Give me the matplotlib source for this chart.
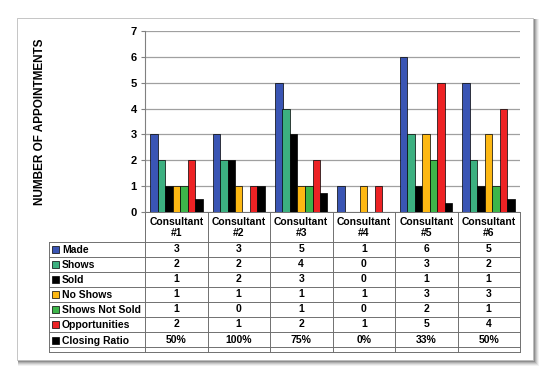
import matplotlib
matplotlib.use("Agg")
import matplotlib.pyplot as plt
from matplotlib.patches import Rectangle
import numpy as np

plt.rcParams['font.family'] = ['Liberation Sans', 'DejaVu Sans']

consultants = ["Consultant\n#1", "Consultant\n#2", "Consultant\n#3",
               "Consultant\n#4", "Consultant\n#5", "Consultant\n#6"]
series_names = ["Made", "Shows", "Sold", "No Shows", "Shows Not Sold",
                "Opportunities", "Closing Ratio"]
made = [3, 3, 5, 1, 6, 5]
shows = [2, 2, 4, 0, 3, 2]
sold = [1, 2, 3, 0, 1, 1]
no_shows = [1, 1, 1, 1, 3, 3]
shows_not_sold = [1, 0, 1, 0, 2, 1]
opportunities = [2, 1, 2, 1, 5, 4]
closing_ratio = [0.50, 1.00, 0.75, 0.00, 0.33, 0.50]
closing_labels = ["50%", "100%", "75%", "0%", "33%", "50%"]
colors = ["#3a55b4", "#3cb080", "#000000", "#fdb813", "#3db54a",
          "#ed2224", "#000000"]
yticks = [0, 1, 2, 3, 4, 5, 6, 7]

series = [made, shows, sold, no_shows, shows_not_sold, opportunities,
          closing_ratio]
table_text = [[str(v) for v in s] for s in series[:-1]] + [closing_labels]

W, H = 550, 377
fig = plt.figure(figsize=(W / 100, H / 100), dpi=100)
fig.patch.set_facecolor("white")

# overlay axes in pixel coordinates
ov = fig.add_axes([0, 0, 1, 1])
ov.set_xlim(0, W)
ov.set_ylim(H, 0)
ov.axis("off")

# card shadow
for i, a in enumerate([0.05, 0.07, 0.10, 0.13, 0.18]):
    off = 5 - i
    ov.add_patch(Rectangle((17 + 1, 18 + 1), 516 + off, 342 + off,
                           facecolor="black", alpha=a, edgecolor="none",
                           zorder=0))
ov.add_patch(Rectangle((17, 18), 516, 342, facecolor="white",
                       edgecolor="#bbbbbb", linewidth=0.6, zorder=1))

# plot axes
x0, x1 = 145, 520
y_top, y_bot = 31, 212
ax = fig.add_axes([x0 / W, 1 - y_bot / H, (x1 - x0) / W, (y_bot - y_top) / H])
ax.set_zorder(3)
ax.patch.set_alpha(0)
n = len(consultants)
x = np.arange(n)
bw = 0.12
for j, (s, c) in enumerate(zip(series, colors)):
    ax.bar(x + (j - 3) * bw, s, width=bw, color=c, edgecolor="black",
           linewidth=0.5, zorder=3)
ax.set_xlim(-0.5, n - 0.5)
ax.set_ylim(0, 7)
ax.set_yticks(yticks)
ax.set_yticklabels([str(t) for t in yticks], fontsize=8, fontweight="bold")
ax.set_xticks([])
ax.yaxis.grid(True, color="#a0a0a0", linewidth=0.9)
ax.set_axisbelow(True)
for sp in ["top", "right", "bottom"]:
    ax.spines[sp].set_visible(False)
ax.spines["left"].set_color("#808080")
ax.spines["left"].set_linewidth(0.8)
ax.tick_params(axis="y", length=3, width=0.8, color="#808080", pad=3)

ov.text(40, 121.5, "NUMBER OF APPOINTMENTS", rotation=90, ha="center",
        va="center", fontsize=8.5, fontweight="bold", zorder=4)

# data table
col_w = (x1 - x0) / n
hdr_bot = 241.7
row_h = 15.0
leg_left = 49
table_bot = 352
lc = "#707070"
lw = 0.7
ov.plot([x0, x1], [y_bot, y_bot], color=lc, lw=lw, zorder=4)
for r in range(len(series) + 1):
    y = hdr_bot + r * row_h
    ov.plot([leg_left, x1], [y, y], color=lc, lw=lw, zorder=4)
ov.plot([leg_left, x1], [table_bot, table_bot], color=lc, lw=lw, zorder=4)
for i in range(n + 1):
    xx = x0 + i * col_w
    ov.plot([xx, xx], [y_bot, table_bot], color=lc, lw=lw, zorder=4)
ov.plot([leg_left, leg_left], [hdr_bot, table_bot], color=lc, lw=lw, zorder=4)

for i, name in enumerate(consultants):
    ov.text(x0 + (i + 0.5) * col_w, (y_bot + hdr_bot) / 2 + 0.5, name,
            ha="center", va="center", fontsize=7.5, fontweight="bold",
            linespacing=1.15, zorder=5)
for r, (name, c) in enumerate(zip(series_names, colors)):
    yc = hdr_bot + r * row_h + row_h / 2
    if r == len(series_names) - 1:
        yc = hdr_bot + r * row_h + 8.5
    ov.add_patch(Rectangle((52, yc - 3.5), 7, 7, facecolor=c,
                           edgecolor="black", linewidth=0.5, zorder=5))
    ov.text(62, yc + 0.5, name, ha="left", va="center", fontsize=7.5,
            fontweight="bold", zorder=5)
    for i in range(n):
        ov.text(x0 + (i + 0.5) * col_w, yc, table_text[r][i], ha="center",
                va="center", fontsize=7.5, fontweight="bold", zorder=5)

fig.savefig("out.png", dpi=100, facecolor="white")
